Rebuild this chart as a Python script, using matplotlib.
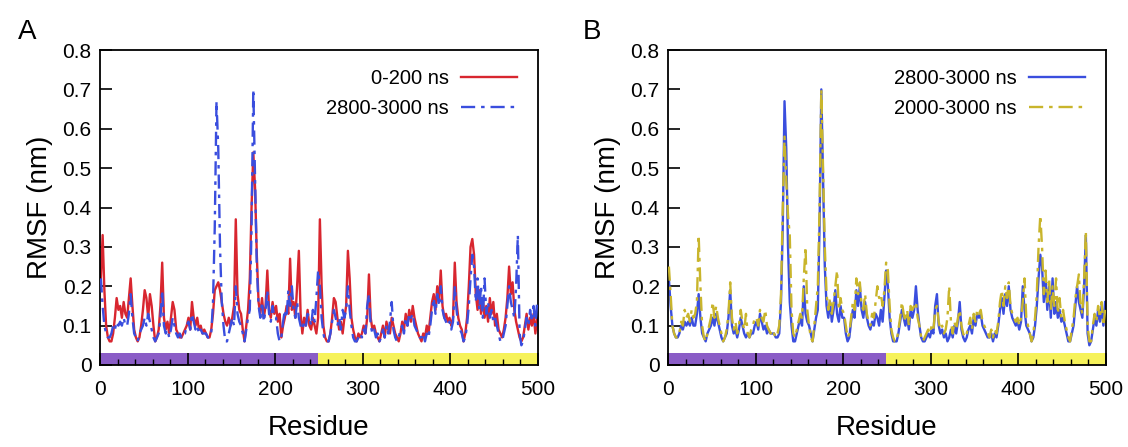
import numpy as np
import matplotlib.pyplot as plt

# residue numbers (every second residue)
residue = np.arange(1, 500, 2)

# RMSF (nm), 0-200 ns
rmsf_0_200 = [
    0.22, 0.33, 0.19, 0.10, 0.07, 0.06, 0.06, 0.08, 0.12, 0.17,
    0.14, 0.15, 0.12, 0.16, 0.13, 0.12, 0.17, 0.22, 0.15, 0.09,
    0.07, 0.06, 0.07, 0.10, 0.14, 0.19, 0.17, 0.12, 0.18, 0.15,
    0.10, 0.06, 0.07, 0.09, 0.15, 0.26, 0.12, 0.09, 0.11, 0.08,
    0.12, 0.16, 0.14, 0.09, 0.08, 0.07, 0.07, 0.08, 0.09, 0.10,
    0.12, 0.09, 0.16, 0.12, 0.10, 0.12, 0.09, 0.10, 0.08, 0.09,
    0.08, 0.07, 0.07, 0.09, 0.13, 0.19, 0.20, 0.21, 0.19, 0.16,
    0.13, 0.11, 0.10, 0.12, 0.10, 0.12, 0.15, 0.37, 0.18, 0.14,
    0.13, 0.09, 0.06, 0.10, 0.14, 0.22, 0.40, 0.54, 0.45, 0.28,
    0.16, 0.13, 0.17, 0.12, 0.15, 0.24, 0.14, 0.12, 0.16, 0.13,
    0.15, 0.11, 0.13, 0.07, 0.10, 0.12, 0.15, 0.13, 0.27, 0.14,
    0.16, 0.12, 0.20, 0.29, 0.13, 0.08, 0.12, 0.10, 0.14, 0.10,
    0.09, 0.12, 0.10, 0.08, 0.12, 0.37, 0.20, 0.10, 0.07, 0.06,
    0.06, 0.08, 0.12, 0.17, 0.16, 0.12, 0.09, 0.11, 0.08, 0.12,
    0.15, 0.29, 0.22, 0.12, 0.09, 0.07, 0.06, 0.08, 0.07, 0.08,
    0.10, 0.08, 0.12, 0.23, 0.12, 0.09, 0.10, 0.08, 0.07, 0.06,
    0.08, 0.10, 0.07, 0.11, 0.09, 0.08, 0.12, 0.10, 0.08, 0.07,
    0.06, 0.08, 0.11, 0.09, 0.13, 0.10, 0.14, 0.11, 0.15, 0.12,
    0.10, 0.08, 0.07, 0.06, 0.08, 0.07, 0.10, 0.08, 0.12, 0.16,
    0.18, 0.14, 0.20, 0.16, 0.24, 0.15, 0.12, 0.13, 0.11, 0.12,
    0.10, 0.12, 0.26, 0.16, 0.12, 0.10, 0.09, 0.06, 0.08, 0.12,
    0.20, 0.30, 0.32, 0.28, 0.18, 0.14, 0.19, 0.13, 0.17, 0.12,
    0.15, 0.11, 0.17, 0.13, 0.16, 0.10, 0.13, 0.09, 0.08, 0.07,
    0.09, 0.12, 0.17, 0.25, 0.18, 0.21, 0.14, 0.11, 0.09, 0.07,
    0.06, 0.07, 0.10, 0.13, 0.09, 0.12, 0.10, 0.13, 0.08, 0.12,
]

# RMSF (nm), 2800-3000 ns
rmsf_2800_3000 = [
    0.22, 0.15, 0.10, 0.08, 0.07, 0.07, 0.08, 0.10, 0.09, 0.11,
    0.10, 0.11, 0.10, 0.12, 0.10, 0.10, 0.13, 0.18, 0.12, 0.08,
    0.07, 0.06, 0.08, 0.09, 0.10, 0.12, 0.10, 0.13, 0.11, 0.09,
    0.07, 0.06, 0.07, 0.08, 0.12, 0.19, 0.10, 0.08, 0.09, 0.07,
    0.09, 0.12, 0.10, 0.08, 0.07, 0.08, 0.07, 0.08, 0.08, 0.10,
    0.11, 0.09, 0.13, 0.11, 0.09, 0.10, 0.08, 0.09, 0.08, 0.08,
    0.08, 0.07, 0.07, 0.08, 0.16, 0.35, 0.67, 0.55, 0.30, 0.16,
    0.10, 0.06, 0.06, 0.08, 0.10, 0.12, 0.10, 0.20, 0.13, 0.11,
    0.10, 0.08, 0.06, 0.09, 0.12, 0.14, 0.35, 0.70, 0.48, 0.25,
    0.15, 0.12, 0.16, 0.11, 0.14, 0.19, 0.13, 0.11, 0.15, 0.12,
    0.12, 0.08, 0.06, 0.07, 0.11, 0.14, 0.12, 0.19, 0.15, 0.20,
    0.14, 0.12, 0.16, 0.12, 0.10, 0.09, 0.11, 0.10, 0.13, 0.12,
    0.10, 0.14, 0.11, 0.17, 0.24, 0.20, 0.12, 0.08, 0.06, 0.06,
    0.06, 0.08, 0.11, 0.14, 0.12, 0.10, 0.12, 0.09, 0.14, 0.12,
    0.14, 0.20, 0.14, 0.10, 0.07, 0.06, 0.06, 0.07, 0.08, 0.07,
    0.09, 0.08, 0.15, 0.18, 0.10, 0.08, 0.09, 0.07, 0.08, 0.06,
    0.07, 0.09, 0.07, 0.10, 0.08, 0.11, 0.16, 0.09, 0.07, 0.06,
    0.07, 0.09, 0.10, 0.08, 0.12, 0.10, 0.13, 0.12, 0.13, 0.10,
    0.09, 0.08, 0.07, 0.07, 0.08, 0.06, 0.08, 0.07, 0.10, 0.14,
    0.17, 0.13, 0.18, 0.15, 0.20, 0.14, 0.12, 0.11, 0.10, 0.11,
    0.09, 0.11, 0.20, 0.14, 0.10, 0.09, 0.08, 0.06, 0.07, 0.10,
    0.15, 0.22, 0.28, 0.25, 0.16, 0.22, 0.14, 0.20, 0.12, 0.22,
    0.13, 0.16, 0.12, 0.14, 0.11, 0.12, 0.10, 0.08, 0.06, 0.06,
    0.08, 0.10, 0.15, 0.20, 0.16, 0.14, 0.12, 0.20, 0.33, 0.08,
    0.05, 0.06, 0.09, 0.12, 0.10, 0.14, 0.11, 0.15, 0.10, 0.16,
]

# RMSF (nm), 2000-3000 ns
rmsf_2000_3000 = [
    0.25, 0.18, 0.10, 0.08, 0.07, 0.07, 0.08, 0.11, 0.10, 0.14,
    0.12, 0.13, 0.11, 0.14, 0.12, 0.13, 0.16, 0.33, 0.20, 0.10,
    0.07, 0.06, 0.08, 0.10, 0.12, 0.16, 0.12, 0.15, 0.12, 0.10,
    0.08, 0.06, 0.07, 0.09, 0.13, 0.21, 0.12, 0.09, 0.11, 0.08,
    0.10, 0.14, 0.11, 0.09, 0.13, 0.08, 0.07, 0.09, 0.10, 0.12,
    0.12, 0.10, 0.14, 0.12, 0.11, 0.14, 0.10, 0.09, 0.08, 0.09,
    0.08, 0.07, 0.08, 0.10, 0.18, 0.40, 0.58, 0.47, 0.38, 0.33,
    0.14, 0.08, 0.07, 0.09, 0.11, 0.13, 0.12, 0.22, 0.30, 0.14,
    0.10, 0.07, 0.06, 0.10, 0.15, 0.20, 0.40, 0.70, 0.50, 0.30,
    0.18, 0.14, 0.17, 0.13, 0.16, 0.20, 0.24, 0.14, 0.17, 0.14,
    0.13, 0.10, 0.07, 0.08, 0.12, 0.16, 0.14, 0.22, 0.18, 0.21,
    0.15, 0.14, 0.18, 0.13, 0.11, 0.10, 0.13, 0.12, 0.16, 0.20,
    0.17, 0.18, 0.15, 0.19, 0.26, 0.24, 0.15, 0.09, 0.07, 0.06,
    0.06, 0.09, 0.12, 0.16, 0.13, 0.11, 0.14, 0.10, 0.15, 0.14,
    0.15, 0.16, 0.12, 0.10, 0.07, 0.06, 0.07, 0.08, 0.09, 0.08,
    0.10, 0.09, 0.14, 0.15, 0.11, 0.09, 0.10, 0.08, 0.09, 0.12,
    0.20, 0.11, 0.08, 0.11, 0.09, 0.12, 0.14, 0.10, 0.08, 0.07,
    0.08, 0.10, 0.12, 0.09, 0.13, 0.11, 0.14, 0.13, 0.14, 0.11,
    0.10, 0.09, 0.08, 0.07, 0.09, 0.07, 0.09, 0.08, 0.11, 0.16,
    0.19, 0.15, 0.20, 0.17, 0.21, 0.15, 0.13, 0.12, 0.11, 0.12,
    0.10, 0.12, 0.16, 0.22, 0.12, 0.10, 0.08, 0.06, 0.08, 0.12,
    0.18, 0.30, 0.38, 0.30, 0.18, 0.24, 0.16, 0.22, 0.14, 0.20,
    0.15, 0.22, 0.13, 0.17, 0.12, 0.14, 0.11, 0.09, 0.07, 0.06,
    0.09, 0.12, 0.17, 0.20, 0.23, 0.15, 0.13, 0.22, 0.34, 0.10,
    0.06, 0.06, 0.10, 0.13, 0.11, 0.15, 0.12, 0.16, 0.10, 0.14,
]

# domain bar along the bottom
domain_start = [0, 249]
domain_end = [249, 500]
domain_color = ['#8a5cc6', '#f6f25a']

RED = '#d8262f'
BLUE = '#3a4ede'
GOLD = '#c9b52c'
DASHDOT = (0, (6, 2.5, 1.5, 2.5))

plt.rcParams['font.family'] = ['Liberation Sans', 'DejaVu Sans']


def style_axes(ax):
    for s in ax.spines.values():
        s.set_linewidth(1.3)
    ax.set_xlim(0, 500)
    ax.set_ylim(0, 0.8)
    ax.set_xticks(np.arange(0, 501, 100))
    ax.set_xticks(np.arange(0, 501, 20), minor=True)
    ax.set_yticks(np.arange(0, 0.81, 0.1))
    ax.set_yticklabels(['0'] + ['%.1f' % v for v in np.arange(0.1, 0.81, 0.1)])
    ax.tick_params(axis='both', which='major', direction='in', length=8.5,
                   width=1.2, labelsize=15, top=False, right=False)
    ax.tick_params(axis='x', which='minor', direction='in', length=4,
                   width=1.0, top=False)
    ax.tick_params(axis='x', which='major', pad=11)
    ax.tick_params(axis='y', which='major', pad=6)
    ax.set_xlabel('Residue', fontsize=20, labelpad=11)
    ax.set_ylabel('RMSF (nm)', fontsize=20, labelpad=7)
    for x0, x1, c in zip(domain_start, domain_end, domain_color):
        ax.axvspan(x0, x1, ymin=0, ymax=0.03 / 0.8, color=c, lw=0, zorder=1)


fig = plt.figure(figsize=(11.28, 4.47), dpi=100)
axA = fig.add_axes([100 / 1128, 1 - 365 / 447, 438 / 1128, 315 / 447])
axB = fig.add_axes([668 / 1128, 1 - 365 / 447, 438 / 1128, 315 / 447])

axA.plot(residue, rmsf_0_200, color=RED, lw=1.7, label='0-200 ns', zorder=2)
axA.plot(residue, rmsf_2800_3000, color=BLUE, lw=1.7, ls=DASHDOT,
         label='2800-3000 ns', zorder=3)

axB.plot(residue, rmsf_2800_3000, color=BLUE, lw=1.7, label='2800-3000 ns', zorder=2)
axB.plot(residue, rmsf_2000_3000, color=GOLD, lw=1.7, ls=DASHDOT,
         label='2000-3000 ns', zorder=3)

for ax in (axA, axB):
    style_axes(ax)
    ax.legend(loc='upper right', bbox_to_anchor=(0.952, 0.94), frameon=False,
              markerfirst=False, fontsize=14.5, handlelength=2.8,
              handletextpad=0.6, labelspacing=0.55, borderpad=0, borderaxespad=0)

fig.text(18 / 1128, 1 - 32 / 447, 'A', fontsize=20, va='center', ha='left')
fig.text(583 / 1128, 1 - 32 / 447, 'B', fontsize=20, va='center', ha='left')

fig.savefig('out.png', dpi=100)
